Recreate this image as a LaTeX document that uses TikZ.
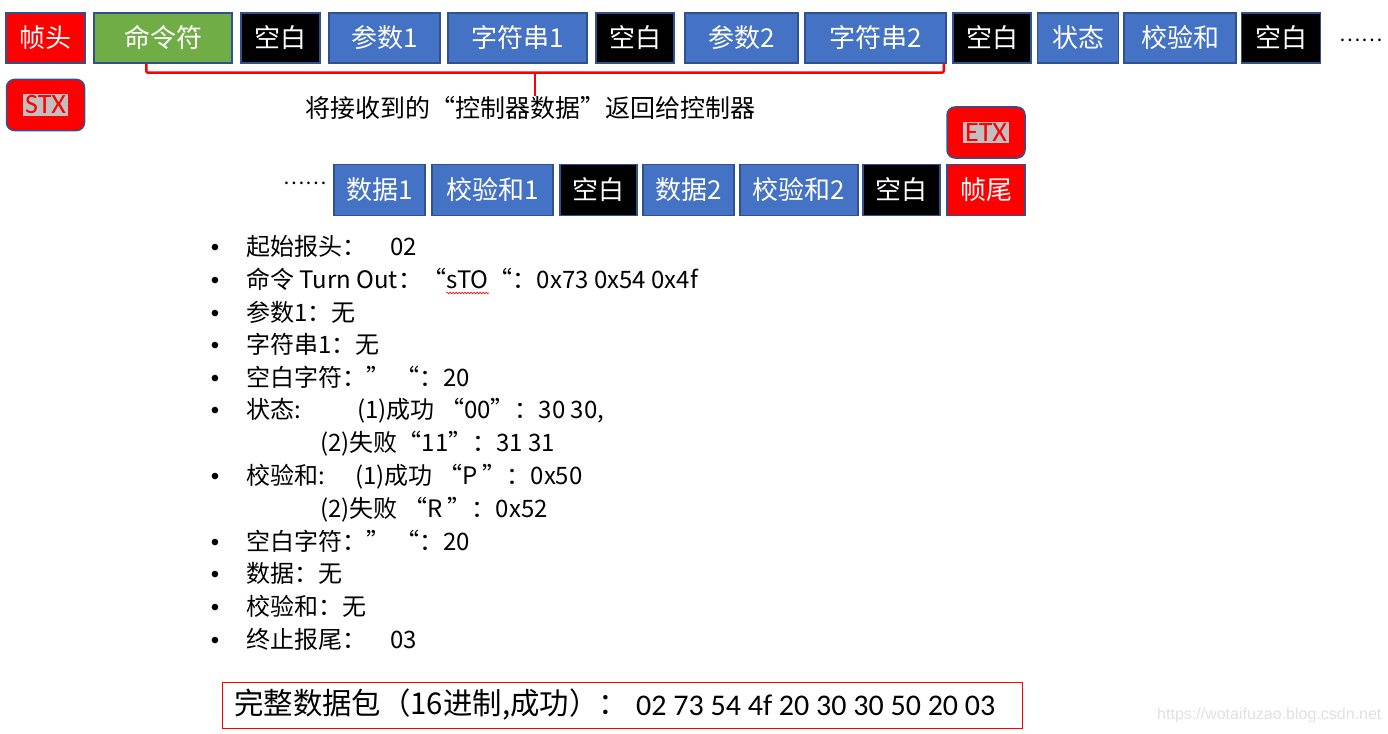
\documentclass[tikz,border=0pt]{standalone}
\usepackage{fontspec}
\setmainfont{Noto Sans CJK SC}
\newfontfamily\calfont{Carlito}
\newfontfamily\wmfont{Liberation Sans}
\usetikzlibrary{calc,decorations.pathmorphing}
\definecolor{bord}{HTML}{2F528F}
\definecolor{cblue}{HTML}{4472C4}
\definecolor{cgreen}{HTML}{70AD47}
\definecolor{cred}{HTML}{FF0000}
\definecolor{hlgray}{HTML}{C0C0C0}
\definecolor{wmgray}{HTML}{E0E0E0}
\begin{document}
\begin{tikzpicture}[x=1pt,y=-1pt,
  cell/.style={draw=bord, line width=1.5pt, text=white, inner sep=0pt, minimum height=50pt, font=\fontsize{26}{26}\selectfont},
  redcell/.style={cell, fill=cred},
  bluecell/.style={cell, fill=cblue},
  blackcell/.style={cell, fill=black},
  greencell/.style={cell, fill=cgreen},
  tagbox/.style={draw=bord, line width=1.5pt, fill=cred, rounded corners=8pt, minimum width=78pt, minimum height=51pt, inner sep=0pt, font=\calfont\fontsize{28}{28}\selectfont},
  item/.style={anchor=base west, inner sep=0pt, font=\fontsize{24}{24}\selectfont},
  bul/.style={anchor=base, inner sep=0pt, font=\wmfont\fontsize{24}{24}\selectfont},
  brk/.style={draw=red, line width=2.5pt, rounded corners=2pt},
  dots/.style={inner sep=0pt, font=\fontsize{20}{20}\selectfont}
]
\useasboundingbox (0,0) rectangle (1388,733);
% top row
\node[redcell,   minimum width=79pt]  (h1)  at (45.5,38)  {帧头};
\node[greencell, minimum width=138pt] (cmd) at (163,38)   {命令符};
\node[blackcell, minimum width=79pt]  (sp1) at (280.5,38) {空白};
\node[bluecell,  minimum width=111pt] (p1)  at (384.5,38) {参数1};
\node[bluecell,  minimum width=139pt] (s1)  at (517.5,38) {字符串1};
\node[blackcell, minimum width=78pt]  (sp2) at (635,38)   {空白};
\node[bluecell,  minimum width=113pt] (p2)  at (741.5,38) {参数2};
\node[bluecell,  minimum width=141pt] (s2)  at (875.5,38) {字符串2};
\node[blackcell, minimum width=78pt]  (sp3) at (992,38)   {空白};
\node[bluecell,  minimum width=81pt]  (st)  at (1078,38)  {状态};
\node[bluecell,  minimum width=112pt] (ck)  at (1180,38)  {校验和};
\node[blackcell, minimum width=79pt]  (sp4) at (1281,38)  {空白};
\node[dots] (dt1) at (1361,40) {……};
% STX
\node[tagbox] (stx) at (45.5,105) {\setlength{\fboxsep}{2pt}\colorbox{hlgray}{\textcolor{cred}{STX}}};
% bracket
\node[inner sep=0pt, font=\fontsize{25}{25}\selectfont] (ret) at (530,108) {将接收到的“控制器数据”返回给控制器};
\draw[brk] ($(cmd.south west)+(53,0)$) -- ++(0,9) coordinate (bl) -| ($(s2.south east)+(-3,0)$);
\coordinate (tk) at (535,72);
\draw[draw=red, line width=2.5pt] (tk) -- (tk |- ret.north);
% ETX
\node[tagbox] (etx) at (986,132.5) {\setlength{\fboxsep}{2pt}\colorbox{hlgray}{\textcolor{cred}{ETX}}};
% second row
\node[dots] (dt2) at (305,183) {……};
\node[bluecell,  minimum width=91pt, minimum height=51pt]  (d1)  at (379.5,190) {数据1};
\node[bluecell,  minimum width=121pt, minimum height=51pt] (c1)  at (492.5,190) {校验和1};
\node[blackcell, minimum width=77pt, minimum height=51pt]  (sp5) at (598.5,190) {空白};
\node[bluecell,  minimum width=91pt, minimum height=51pt]  (d2)  at (688.5,190) {数据2};
\node[bluecell,  minimum width=118pt, minimum height=51pt] (c2)  at (799,190)   {校验和2};
\node[blackcell, minimum width=77pt, minimum height=51pt]  (sp6) at (901.5,190) {空白};
\node[redcell,   minimum width=78pt, minimum height=51pt]  (tail) at (986,190)  {帧尾};
% list
\foreach \yy [count=\i] in {255,288,321,353,386,418,484,550,582,615,648}
  \node[bul] (b\i) at (215,\yy) {•};
\node[item] (t1) at (246,255) {起始报头：\hspace{24pt}02};
\node[item] (t2a) at (246,288) {命令 Turn Out：“};
\node[item] (sto) at (t2a.base east) {sTO};
\node[item] (t2b) at (sto.base east) {“：\hspace{0pt}0x73 0x54 0x4f};
\draw[red, line width=0.6pt, decorate, decoration={snake, amplitude=0.8pt, segment length=3pt}] ($(sto.base west)+(0,5)$) -- ($(sto.base east)+(0,5)$);
\node[item] (t3) at (246,321) {参数1：无};
\node[item] (t4) at (246,353) {字符串1：无};
\node[item] (t5) at (246,386) {空白字符：” “：20};
\node[item] (t6a) at (246,418) {状态:};
\node[item] (t6b) at (357,418) {(1)成功 “00”：30 30,};
\node[item] (t7) at (320,451) {(2)失败“11”：31 31};
\node[item] (t8a) at (246,484) {校验和:};
\node[item] (t8b) at (355,484) {(1)成功 “P ”：0x50};
\node[item] (t9) at (320,517) {(2)失败 “R ”：0x52};
\node[item] (t10) at (246,550) {空白字符：” “：20};
\node[item] (t11) at (246,582) {数据：无};
\node[item] (t12) at (246,615) {校验和：无};
\node[item] (t13) at (246,648) {终止报尾：\hspace{24pt}03};
% bottom packet
\node[draw=red, line width=1pt, minimum width=800pt, minimum height=46pt, inner sep=0pt] (pkt) at (622,705) {};
\node[anchor=west, inner sep=0pt, font=\fontsize{30}{30}\selectfont] (pkta) at (234,705) {\scalebox{0.98}[1]{完整数据包（16进制,成功）：}};
\node[anchor=west, inner sep=0pt, font=\calfont\fontsize{30}{30}\selectfont] (pktb) at (636,705) {02 73 54 4f 20 30 30 50 20 03};
% watermark
\node[anchor=west, inner sep=0pt, text=wmgray, font=\wmfont\fontsize{16}{16}\selectfont] (wm) at (1157,715) {https://wotaifuzao.blog.csdn.net};
\end{tikzpicture}
\end{document}
